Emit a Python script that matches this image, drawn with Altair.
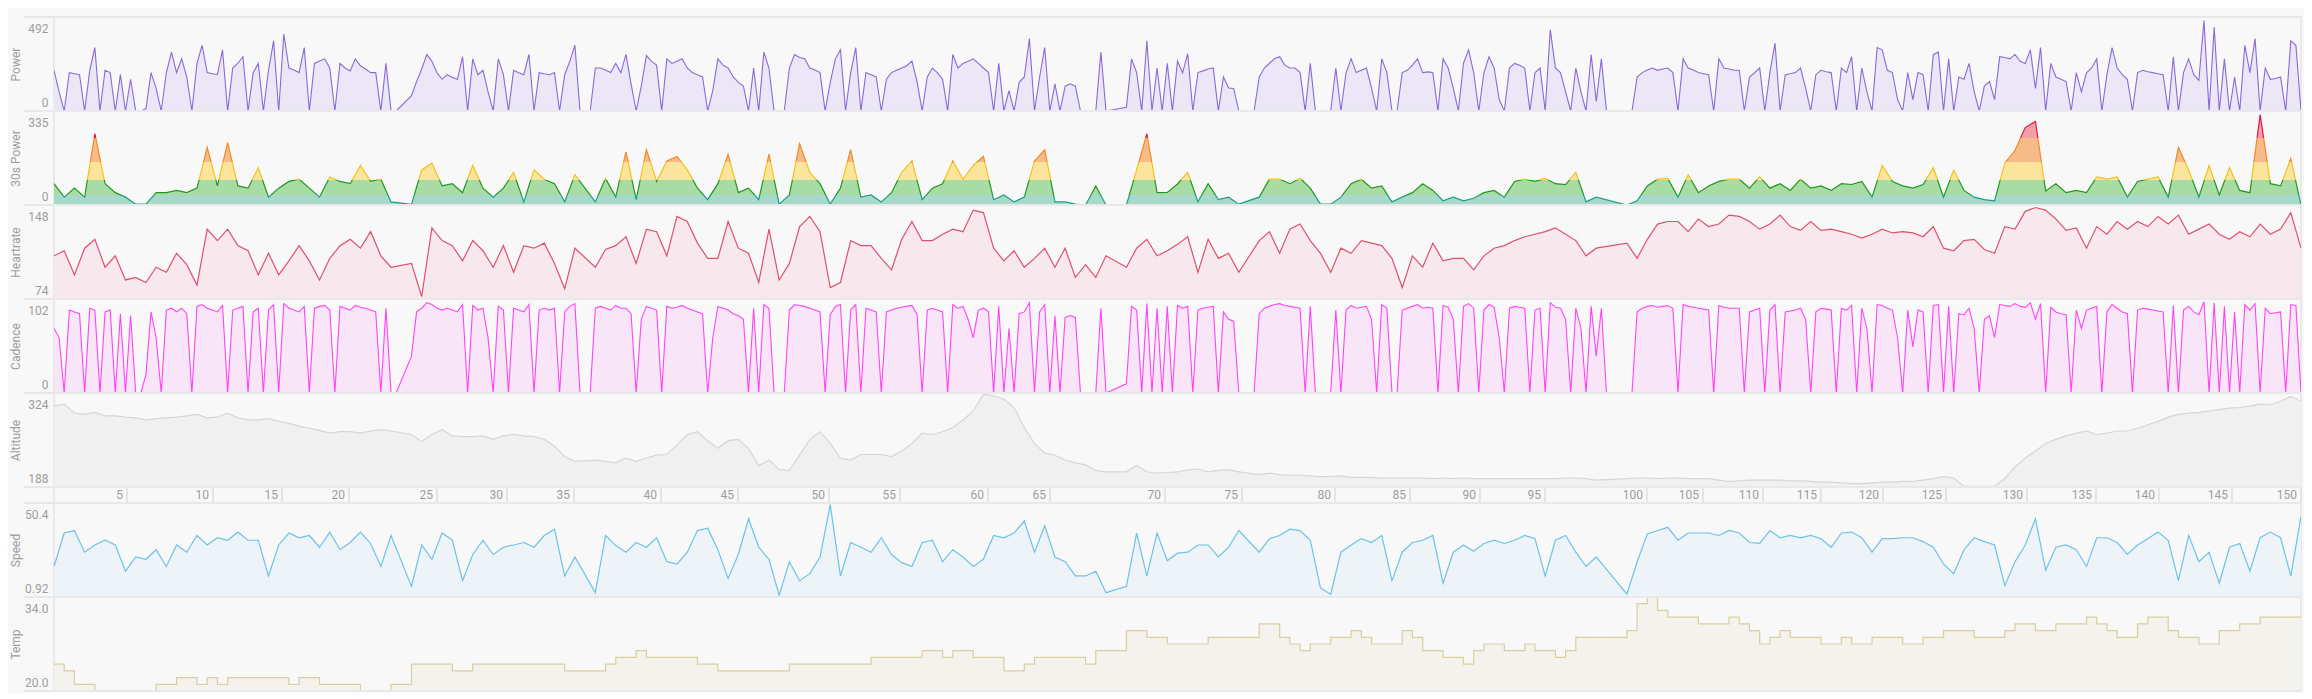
import altair as alt
import pandas as pd

# ---------------- data ----------------
# power and cadence: one reading every half sample (~45 s); None = recording paused
power = [
    213, 100, 0, 201, 195, 190, 0, 213, 332, 0,
    213, 201, 0, 190, 0, 166, 0, 0, 12, 201,
    118, 0, 200, 308, 201, 273, 178, 0, 249, 344,
    201, 195, 190, 320, 0, 225, 250, 284, 0, 200,
    249, 0, 213, 367, 0, 403, 225, 215, 201, 332,
    0, 249, 262, 273, 225, 0, 249, 225, 210, 273,
    237, 220, 201, 201, 0, 249, 0, 0, None, None,
    80, 154, 220, 296, 260, 200, 166, 190, 175, 166,
    284, 0, 273, 190, 213, 100, 0, 273, 190, 0,
    213, 200, 190, 296, 0, 201, 195, 190, 201, 0,
    190, 260, 344, 0, None, 0, 225, 225, 215, 201,
    249, 200,
    296, 142, 0, 130, 290, 260, 240, 0, 273, 249,
    260, 273, 225, 201, 190, 178, 0, 107, 273, 240,
    225, 178, 150, 130, 0, 225, 0, 308, 225, 0,
    0, 0, 225, 296, 280, 273, 225, 215, 201, 0,
    150, 273, 320, 0, 200, 332, 0, 201, 190, 178,
    0, 166, 201, 213, 225, 237, 261, 154, 0, 178,
    225, 200, 166, 0, 296, 225, 249, 260, 273, 249,
    225, 201, 0, 249, 0, 107, 0, 150, 178, 379,
    0, 178, 332, 0, 142, 0, 130, 142, 130, 0,
    0, 0, 0, 308, 0, None, None, None, 20, 273,
    201, 0, 367, 0, 225, 0, 249, 0, 261, 200,
    300, 0, 201, 210, 220, 225, 0, 178, 120, 118,
    0, 0, None, 0, 178, 225, 250, 273, 284, 240,
    225, 225, 201, 0, 249, 0, 0, 0, 0, 225,
    0, 200, 273, 201, 213, 225, 120, 0, 273, 201,
    0, 0, 201, 213, 240, 273, 201, 205, 201, 0,
    273, 225, 120, 0, 250, 320, 201, 0, 200, 284,
    225, 60, 0, 225, 249, 240, 225, 0, 200, 225,
    0, 426, 225, 201, 100, 0, 225, 100, 0, 296,
    50, 273, 0, None, None, None, 0, 0, 178, 201,
    215, 225, 213, 220, 225, 201, 0, 273, 225, 215,
    201, 195, 190, 0, 273, 225, 220, 213,
    213, 0, 178, 200, 225, 0, 201, 355, 0, 190,
    195, 201, 225, 120, 0, 190, 213, 205, 201, 0,
    225, 201, 284, 0, 225, 100, 0, 332, 320, 213,
    201, 60, 0, 201, 60, 201, 190, 0, 296, 308,
    0, 273, 0, 178, 166, 249, 100, 0, 130, 154,
    60, 284, 280, 273, 296, 260, 249, 320, 118, 332,
    0, 249, 178, 166, 154, 0, 201, 100, 200, 225,
    273, 0, 190, 332, 225, 190, 166, 0, 201, 213,
    205, 201, 195, 190, 0, 284, 0, 201, 273, 190,
    160, 474, 0, 438, 0, 273, 0, 178, 0, 344,
    201, 379, 0, 225, 166, 170, 178, 0, 367, 344,
    0,
]

cadence = [
    70, 60, 0, 90, 88, 86, 0, 92, 90, 0,
    88, 90, 0, 86, 0, 84, 0, 0, 20, 88,
    60, 0, 90, 92, 88, 92, 86, 0, 94, 96,
    92, 90, 88, 95, 0, 90, 92, 94, 0, 88,
    92, 0, 90, 96, 0, 97, 92, 90, 88, 94,
    0, 92, 94, 95, 90, 0, 94, 92, 90, 95,
    93, 92, 90, 88, 0, 92, 0, 0, None, None,
    40, 88, 92, 98, 96, 92, 90, 92, 90, 88,
    96, 0, 95, 90, 92, 60, 0, 94, 90, 0,
    92, 90, 88, 96, 0, 90, 92, 90, 92, 0,
    88, 94, 97, 0, None, 0, 92, 94, 92, 90,
    95, 92,
    92, 86, 0, 80, 94, 92, 90, 0, 94, 92,
    93, 95, 92, 90, 88, 86, 0, 60, 94, 92,
    90, 86, 84, 80, 0, 92, 0, 96, 92, 0,
    0, 0, 90, 96, 95, 94, 92, 90, 88, 0,
    85, 94, 96, 0, 90, 96, 0, 92, 90, 88,
    0, 88, 90, 92, 93, 94, 95, 85, 0, 90,
    92, 90, 88, 0, 96, 92, 94, 80, 60, 90,
    92, 88, 0, 94, 0, 70, 0, 86, 88, 98,
    0, 88, 96, 0, 84, 0, 82, 84, 82, 0,
    0, 0, 0, 92, 0, None, None, None, 10, 94,
    90, 0, 97, 0, 92, 0, 94, 0, 95, 92,
    94, 0, 90, 92, 93, 94, 0, 88, 80, 78,
    0, 0, None, 0, 86, 92, 94, 96, 97, 95,
    94, 93, 92, 0, 94, 0, 0, 0, 0, 90,
    0, 90, 95, 92, 93, 94, 80, 0, 96, 92,
    0, 0, 90, 92, 94, 96, 92, 93, 92, 0,
    95, 93, 80, 0, 94, 97, 92, 0, 90, 96,
    93, 60, 0, 92, 94, 93, 92, 0, 90, 92,
    0, 98, 93, 92, 80, 0, 92, 70, 0, 94,
    40, 92, 0, None, None, None, 0, 0, 88, 92,
    94, 95, 93, 94, 95, 92, 0, 96, 94, 93,
    92, 91, 90, 0, 95, 93, 92, 92,
    92, 0, 88, 90, 92, 0, 90, 96, 0, 88,
    89, 90, 92, 80, 0, 88, 92, 91, 90, 0,
    92, 90, 95, 0, 92, 70, 0, 96, 95, 92,
    90, 60, 0, 90, 50, 90, 88, 0, 95, 96,
    0, 94, 0, 86, 85, 92, 70, 0, 80, 84,
    60, 96, 95, 94, 97, 94, 93, 98, 80, 97,
    0, 93, 88, 86, 85, 0, 90, 70, 90, 92,
    94, 0, 88, 96, 92, 88, 86, 0, 90, 92,
    91, 90, 89, 88, 0, 95, 0, 90, 94, 88,
    85, 99, 0, 98, 0, 94, 0, 88, 0, 96,
    90, 97, 0, 92, 86, 87, 88, 0, 96, 95,
    0,
]

# the other channels: one reading per sample (~1.5 min)
power30 = [
    76, 28, 60, 28, 254, 76, 44, 28, 3, 3,
    44, 44, 52, 44, 60, 205, 68, 222, 68, 60,
    133, 28, 60, 84, 92, 60, 28, 100, 84, 76,
    141, 84, 92, 11, None, 2, 125, 149, 68, 76,
    44, 141, 60, 28, 60, 116, 11, 125, 92, 76,
    11, 108, None, 11, 95, 28, 189, 19, 197, 84,
    157, 173, 125, 60, 19, 76, 181, 44, 60, 19,
    181, 3, 36, 218, 116, 76, 3, 60, 197, 28,
    36, 11, 44, 116, 157, 19, 60, 76, 157, 92,
    141, 173, 19, 36, 11, 28, 157, 197, 11, 11,
    3, 0, 68, 0, None, 0, 125, 254, 44, 45,
    75, 116, 11, 76, 19, 28, 3, None, 28, 92,
    92, 76, 95, 60, 3, 3, 28, 76, 92, 60,
    68, 11, 28, 44, 76, 52, 15, 28, 15, 24,
    44, 52, 28, 84, 92, 84, 95, 76, 73, 116,
    11, 28, None, None, 0, 15, 68, 92, 95, 28,
    108, 44, 68, 84, 92, 92, 60, 100, 60, 76,
    52, 92, 60, 68, 52, 76, 73, 84, 28, 141,
    84, 68, 60, 73, 133, 28, 125, 52, 28, 19,
    15, 150, 195, 276, 298, 50, 76, 44, 52, 44,
    100, 92, 100, 28, 84, 92, 100, 28, 205, 125,
    28, 141, 36, 133, 52, 44, 322, 76, 68, 165,
    0,
]

heartrate = [
    108, 112, 93, 114, 121, 99, 108, 89, 91, 87,
    99, 95, 110, 101, 85, 129, 120, 129, 116, 112,
    93, 110, 93, 104, 116, 104, 89, 106, 116, 121,
    114, 127, 108, 99, None, 102, 76, 130, 120, 116,
    104, 120, 112, 99, 116, 95, 116, 114, 118, 102,
    82, 114, None, 99, 113, 116, 123, 102, 129, 127,
    108, 139, 135, 118, 106, 106, 135, 114, 110, 87,
    129, 89, 102, 131, 139, 127, 83, 87, 120, 116,
    116, 106, 97, 121, 135, 120, 120, 125, 129, 127,
    144, 142, 114, 104, 112, 99, 106, 114, 99, 114,
    91, 101, 91, 108, None, 99, 114, 121, 108, 112,
    117, 123, 95, 121, 106, 110, 95, None, 120, 127,
    110, 129, 133, 120, 110, 95, 114, 110, 120, 118,
    116, 106, 83, 108, 99, 118, 104, 106, 106, 97,
    108, 114, 116, 120, 123, 125, 127, 130, 125, 120,
    108, 114, None, None, 118, 106, 121, 133, 135, 135,
    127, 137, 131, 133, 140, 139, 135, 129, 133, 140,
    131, 128, 135, 128, 129, 127, 125, 122, 125, 129,
    126, 127, 126, 123, 131, 114, 112, 120, 121, 113,
    110, 131, 129, 143, 146, 144, 137, 128, 130, 114,
    131, 125, 135, 129, 135, 131, 139, 133, 140, 125,
    129, 133, 125, 121, 127, 123, 133, 125, 129, 142,
    114,
]

altitude = [
    305, 308, 295, 293, 296, 291, 291, 289, 288, 285,
    287, 288, 289, 291, 293, 288, 289, 295, 288, 285,
    285, 287, 283, 280, 276, 273, 270, 266, 268, 268,
    266, 269, 271, 269, None, 264, 254, 264, 271, 262,
    261, 261, 262, 257, 262, 264, 262, 261, 257, 247,
    232, 225, None, 227, 225, 223, 230, 225, 230, 234,
    235, 249, 264, 268, 255, 244, 255, 257, 244, 219,
    227, 213, 212, 234, 257, 268, 251, 230, 227, 235,
    235, 235, 232, 240, 251, 266, 264, 268, 274, 285,
    298, 322, 320, 315, 303, 274, 251, 237, 234, 227,
    223, 220, 212, 210, None, 210, 219, 210, 208, 209,
    210, 213, 214, 210, 212, 213, 210, None, 206, 208,
    206, 205, 205, 204, 203, 203, 204, 202, 202, 202,
    201, 201, 201, 201, 201, 200, 201, 200, 201, 200,
    200, 200, 200, 200, 200, 200, 200, 200, 201, 201,
    200, 198, None, None, 200, 201, 201, 200, 201, 201,
    200, 200, 200, 198, 196, 197, 198, 198, 198, 198,
    197, 197, 196, 195, 195, 194, 193, 193, 194, 195,
    195, 196, 196, 198, 200, 203, 201, 189, 189, 189,
    189, 200, 217, 230, 240, 251, 257, 262, 266, 269,
    264, 266, 269, 269, 273, 278, 283, 289, 293, 295,
    296, 298, 300, 302, 303, 305, 308, 307, 312, 319,
    312,
]

speed = [
    17.0, 34.6, 35.9, 24.5, 28.3, 30.8, 28.3, 14.5, 22.0, 20.8,
    25.8, 17.0, 28.3, 24.5, 33.3, 28.3, 32.1, 30.8, 35.1, 30.8,
    30.8, 12.0, 28.3, 34.6, 32.1, 33.3, 27.1, 35.1, 25.8, 29.6,
    35.1, 29.1, 17.0, 33.3, None, 6.5, 28.3, 20.8, 34.6, 30.8,
    9.5, 23.3, 30.8, 23.3, 27.1, 28.3, 29.6, 27.1, 33.3, 36.6,
    12.0, 22.0, None, 3.2, 33.3, 28.0, 24.5, 29.6, 27.1, 32.1,
    19.5, 18.3, 24.5, 35.9, 37.1, 25.8, 10.7, 23.3, 42.1, 27.1,
    20.8, 1.9, 19.5, 9.5, 13.2, 22.0, 49.5, 12.0, 29.6, 27.1,
    24.5, 32.1, 23.3, 19.0, 17.0, 29.6, 30.8, 19.5, 25.8, 22.0,
    17.0, 20.8, 33.3, 32.1, 34.6, 40.9, 24.5, 38.4, 22.0, 19.5,
    12.0, 12.0, 14.5, 3.2, None, 6.5, 34.6, 12.0, 34.6, 20.0,
    24.0, 24.5, 28.3, 28.3, 22.0, 27.1, 35.9, None, 24.5, 31.6,
    33.3, 36.6, 35.9, 30.8, 5.7, 2.4, 24.5, 28.3, 31.6, 29.6,
    33.3, 9.5, 24.5, 29.6, 30.8, 33.3, 8.2, 24.5, 28.3, 25.0,
    29.1, 30.8, 29.1, 30.8, 33.3, 31.6, 12.0, 30.8, 33.3, 24.5,
    17.0, 22.0, None, None, 2.4, 19.5, 34.1, 35.9, 37.6, 30.8,
    34.6, 34.6, 34.6, 33.3, 36.0, 34.6, 29.6, 29.1, 35.9, 32.1,
    33.3, 32.1, 33.3, 31.6, 27.1, 34.6, 35.1, 32.1, 24.5, 31.6,
    31.6, 32.1, 32.1, 30.1, 27.1, 18.3, 13.2, 25.8, 32.1, 30.1,
    28.3, 6.9, 19.5, 28.3, 42.1, 15.0, 27.1, 28.3, 25.8, 17.0,
    32.1, 32.1, 29.6, 23.3, 28.3, 31.6, 35.1, 30.8, 9.5, 33.3,
    19.5, 24.5, 8.2, 27.1, 29.1, 14.5, 32.1, 35.1, 32.1, 12.0,
    43.4,
]

temperature = [
    24, 23, 21, 21, 20, 20, 20, 20, 20, 20,
    21, 21, 22, 22, 21, 22, 21, 22, 22, 22,
    22, 22, 22, 21, 22, 22, 21, 21, 21, 21,
    20, 20, 20, 21, None, 24, 24, 24, 24, 23,
    23, 24, 24, 24, 24, 24, 24, 24, 24, 24,
    23, 23, None, 23, 24, 25, 25, 26, 25, 25,
    25, 25, 25, 24, 24, 23, 23, 23, 23, 23,
    23, 23, 24, 24, 24, 24, 24, 24, 24, 24,
    25, 25, 25, 25, 25, 26, 26, 25, 26, 26,
    25, 25, 25, 23, 23, 24, 25, 25, 25, 25,
    25, 24, 26, 26, None, 29, 29, 28, 28, 27,
    27, 27, 27, 28, 28, 28, 28, None, 30, 30,
    28, 27, 26, 27, 27, 28, 28, 29, 28, 27,
    27, 27, 29, 28, 26, 26, 25, 25, 24, 26,
    27, 27, 26, 26, 27, 26, 26, 25, 26, 28,
    28, 28, None, None, 29, 33, 34, 32, 31, 31,
    31, 30, 30, 30, 31, 30, 29, 27, 28, 29,
    28, 28, 28, 27, 27, 28, 27, 27, 28, 28,
    28, 27, 27, 28, 28, 29, 29, 29, 28, 28,
    28, 29, 30, 30, 29, 29, 30, 30, 30, 31,
    30, 29, 28, 28, 30, 31, 31, 29, 28, 28,
    27, 27, 29, 29, 30, 30, 31, 31, 31, 31,
    31,
]

# distance markers (km) and the sample at which each was reached
km_labels = [5, 10, 15, 20, 25, 30, 35, 40, 45, 50, 55, 60, 65, 70, 75,
             80, 85, 90, 95, 100, 105, 110, 115, 120, 125, 130, 135, 140, 145, 150]
km_sample = [7.15, 15.57, 22.32, 28.88, 37.50, 44.35, 50.91, 59.43, 66.97, 75.88,
             82.83, 91.44, 97.51, 108.77, 116.31, 125.42, 132.76, 139.61, 145.98, 155.96,
             161.45, 167.32, 173.0, 179.07, 185.24, 193.17, 199.92, 206.09, 213.24, 220.0]

# 30s power zone thresholds (W)
zone_levels = [35, 90, 155, 240]

# ---------------- build ----------------
N = len(power30)
NH = len(power)
df = pd.DataFrame({
    "s": list(range(N)),
    "p30": power30, "hr": heartrate,
    "alt": altitude, "speed": speed, "temp": temperature,
})
dfh = pd.DataFrame({"s": [k / 2 for k in range(NH)], "power": power, "cad": cadence})

W = 2247
H = 94
BG = "#f8f8f8"
SEP = "#e9e9e9"
TXT = "#9d9d9d"
FONT = "Roboto"

xenc = alt.X("s:Q", scale=alt.Scale(domain=[0, N - 1], nice=False, zero=False), axis=None)
one = pd.DataFrame({"k": [0]})


def sep_top():
    return alt.Chart(one).mark_rule(color=SEP, strokeWidth=2).encode(
        x=alt.value(-30), x2=alt.value(W + 1), y=alt.value(0))


def sep_bottom():
    return alt.Chart(one).mark_rule(color=SEP, strokeWidth=2).encode(
        x=alt.value(-30), x2=alt.value(W + 1), y=alt.value(H))


def yenc(field, lo, hi, title, fmt):
    mid = (lo + hi) / 2
    return alt.Y(
        f"{field}:Q",
        scale=alt.Scale(domain=[lo, hi], nice=False, zero=False),
        axis=alt.Axis(
            values=[lo, hi], format=fmt, title=title,
            titleX=-39, titleY=H / 2, titleAngle=270, titleAlign="center",
            titleBaseline="middle", titleColor=TXT, titleFont=FONT,
            titleFontSize=12, titleFontWeight="normal",
            labelColor=TXT, labelFont=FONT, labelFontSize=12, labelPadding=6,
            labelBaseline="middle", labelOverlap=False,
            labelOffset={"condition": {"test": f"datum.value > {mid}", "value": 11}, "value": -9},
            ticks=False, domain=False, grid=False,
        ),
    )


def panel(data, field, title, lo, hi, line_color, fill_color, fmt,
          interp="linear", bottom=False, lw=1.2):
    base = alt.Chart(data).transform_filter(f"isValid(datum.{field})")
    y = yenc(field, lo, hi, title, fmt)
    area = base.mark_area(color=fill_color, opacity=1, interpolate=interp, clip=True).encode(
        x=xenc, y=y, y2=alt.datum(lo))
    line = base.mark_line(color=line_color, strokeWidth=lw, interpolate=interp, clip=True).encode(
        x=xenc, y=y)
    layers = [area, line, sep_top()]
    if bottom:
        layers.append(sep_bottom())
    return alt.layer(*layers).properties(width=W, height=H)


# 30s power with zone-coloured gradient
valid30 = [v for v in power30 if v is not None]
vmin, vmax = min(valid30), max(valid30)
zone_fill = ["#a7d9ca", "#a9dba4", "#fbe49c", "#f6bb88", "#f2a0a6"]
zone_line = ["#17a085", "#1d991d", "#f2c21d", "#f08a27", "#e0184a"]


def zone_gradient(cols):
    edges = [vmin] + zone_levels + [vmax]
    stops = []
    for k, c in enumerate(cols):
        a = (edges[k] - vmin) / (vmax - vmin)
        b = (edges[k + 1] - vmin) / (vmax - vmin)
        stops.append(alt.GradientStop(offset=a, color=c))
        stops.append(alt.GradientStop(offset=b, color=c))
    return alt.LinearGradient(gradient="linear", stops=stops, x1=0, x2=0, y1=1, y2=0)


base30 = alt.Chart(df).transform_filter("isValid(datum.p30)")
y30 = yenc("p30", 0, 335, "30s Power", "d")
p30_panel = alt.layer(
    base30.mark_area(color=zone_gradient(zone_fill), opacity=1, clip=True).encode(
        x=xenc, y=y30, y2=alt.datum(0)),
    base30.mark_line(color=zone_gradient(zone_line), strokeWidth=1.2, clip=True).encode(
        x=xenc, y=y30),
    sep_top(),
).properties(width=W, height=H)

p_power = panel(dfh, "power", "Power", 0, 492, "#8c69d7", "#ebe7f6", "d", lw=1.1)
p_hr = panel(df, "hr", "Heartrate", 74, 148, "#e0506e", "#f6e8ec", "d")
p_cad = panel(dfh, "cad", "Cadence", 0, 102, "#ff44f6", "#f8e6f8", "d", lw=1.1)
p_alt = panel(df, "alt", "Altitude", 188, 324, "#d6d6d6", "#f0f0f0", "d")
p_speed = panel(df, "speed", "Speed", 0.92, 50.4, "#6cc3e8", "#edf3f7", ".3~r")
p_temp = panel(df, "temp", "Temp", 20, 34, "#d9cf9f", "#f3f2ec", ".1f", interp="step-after", bottom=True)

band_df = pd.DataFrame({"s": km_sample, "km": [str(k) for k in km_labels]})
band = alt.layer(
    alt.Chart(band_df).mark_rule(color="#e4e4e4", strokeWidth=2).encode(x=xenc),
    alt.Chart(band_df).mark_text(align="right", baseline="middle", dx=-4, font=FONT,
                                 fontSize=12, color=TXT).encode(
        x=xenc, y=alt.value(8), text="km:N"),
    sep_top(),
).properties(width=W, height=16)

chart = alt.vconcat(
    p_power, p30_panel, p_hr, p_cad, p_alt, band, p_speed, p_temp,
    spacing=0, bounds="flush",
).properties(
    background=BG,
    padding={"left": 0, "top": 7, "right": 0, "bottom": 0},
).configure_view(stroke="#e9e9e9", strokeWidth=2)

chart.save("out.html", embed_options={"renderer": "svg", "actions": False})
